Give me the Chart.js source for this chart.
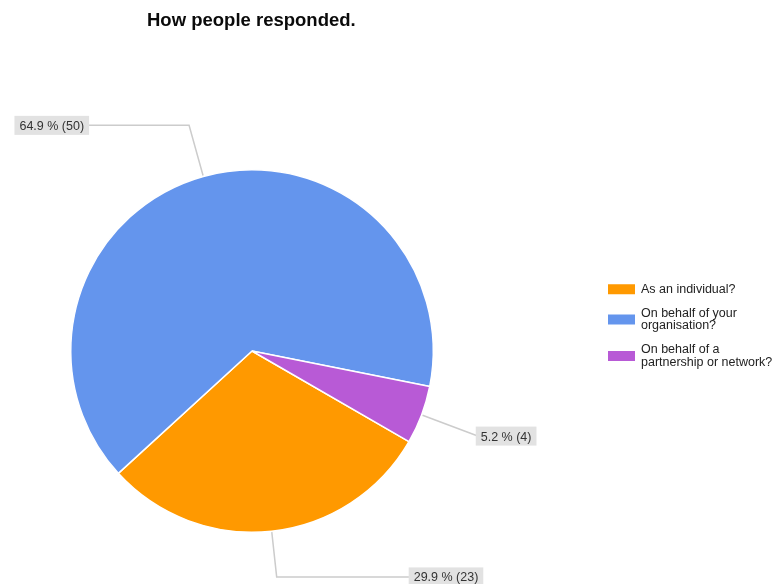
<!DOCTYPE html>
<html>
<head>
<meta charset="utf-8">
<script src="https://cdn.jsdelivr.net/npm/chart.js@4.4.1/dist/chart.umd.min.js"></script>
<style>
  html, body { margin: 0; padding: 0; background: #fff; }
  #wrap { width: 784px; height: 584px; }
</style>
</head>
<body>
<div id="wrap"><canvas id="responseChart" width="784" height="584"></canvas></div>
<script>
var chartTitle = 'How people responded.';
var categories = ['As an individual?', 'On behalf of your organisation?', 'On behalf of a partnership or network?'];
var responses = [23, 50, 4];
var sliceColors = ['#ff9900', '#6495ed', '#b85ad6'];

var FONT = '"Liberation Sans", Arial, sans-serif';

// title, top left above the pie
var titlePlugin = {
    id: 'plainTitle',
    afterDraw: function(chart) {
        var ctx = chart.ctx;
        ctx.save();
        ctx.font = 'bold 18.5px ' + FONT;
        ctx.fillStyle = '#0a0a0a';
        ctx.textBaseline = 'alphabetic';
        ctx.fillText(chartTitle, 147, 26);
        ctx.restore();
    }
};

// percent + count boxes hooked to each slice with a bent leader line
var calloutElbow = [46, 53, 60];
var calloutRun = [134, -100, 0];
var calloutPlugin = {
    id: 'callouts',
    afterDatasetsDraw: function(chart) {
        var ctx = chart.ctx;
        var meta = chart.getDatasetMeta(0);
        var values = chart.data.datasets[0].data;
        var total = values.reduce(function(a, b) { return a + b; }, 0);
        ctx.save();
        ctx.font = '12.5px ' + FONT;
        meta.data.forEach(function(arc, i) {
            var p = arc.getProps(['x', 'y', 'startAngle', 'endAngle', 'outerRadius'], true);
            var mid = (p.startAngle + p.endAngle) / 2;
            var cos = Math.cos(mid), sin = Math.sin(mid);
            var x0 = p.x + cos * (p.outerRadius + 1);
            var y0 = p.y + sin * (p.outerRadius + 1);
            var ex = p.x + cos * (p.outerRadius + calloutElbow[i]);
            var ey = p.y + sin * (p.outerRadius + calloutElbow[i]);
            var x2 = ex + calloutRun[i];

            ctx.strokeStyle = '#cccccc';
            ctx.lineWidth = 1.5;
            ctx.beginPath();
            ctx.moveTo(x0, y0);
            ctx.lineTo(ex, ey);
            ctx.lineTo(x2, ey);
            ctx.stroke();

            var text = (values[i] / total * 100).toFixed(1) + ' % (' + values[i] + ')';
            var w = ctx.measureText(text).width + 10;
            var h = 19;
            var left = calloutRun[i] < 0 ? x2 - w : x2 - 2;
            ctx.fillStyle = '#e2e2e2';
            ctx.fillRect(left, ey - h / 2, w, h);
            ctx.fillStyle = '#333';
            ctx.textBaseline = 'middle';
            ctx.fillText(text, left + 5, ey + 1);
        });
        ctx.restore();
    }
};

// right-hand legend with wrapped labels
function wrapText(ctx, text, maxWidth) {
    var words = text.split(' ');
    var lines = [];
    var line = '';
    words.forEach(function(word) {
        var test = line ? line + ' ' + word : word;
        if (line && ctx.measureText(test).width > maxWidth) {
            lines.push(line);
            line = word;
        } else {
            line = test;
        }
    });
    lines.push(line);
    return lines;
}

var legendPlugin = {
    id: 'sideLegend',
    afterDraw: function(chart) {
        var ctx = chart.ctx;
        var lineH = 12.5;
        var y = 283;
        ctx.save();
        ctx.font = '12.5px ' + FONT;
        ctx.textBaseline = 'top';
        chart.data.labels.forEach(function(label, i) {
            var lines = wrapText(ctx, label, 136);
            var blockH = lines.length * lineH;
            ctx.fillStyle = chart.data.datasets[0].backgroundColor[i];
            ctx.fillRect(608, y + blockH / 2 - 5, 27, 10);
            ctx.fillStyle = '#222';
            lines.forEach(function(ln, k) {
                ctx.fillText(ln, 641, y + k * lineH);
            });
            y += blockH + 11.5;
        });
        ctx.restore();
    }
};

var ctx = document.getElementById('responseChart').getContext('2d');
var responseChart = new Chart(ctx, {
    type: 'pie',
    data: {
        labels: categories,
        datasets: [{
            data: responses,
            backgroundColor: sliceColors,
            borderColor: '#ffffff',
            borderWidth: 1.5
        }]
    },
    options: {
        responsive: false,
        animation: false,
        rotation: 120,
        layout: {
            padding: { left: 70, top: 169, right: 350, bottom: 51 }
        },
        plugins: {
            legend: { display: false },
            title: { display: false },
            tooltip: { enabled: false }
        }
    },
    plugins: [titlePlugin, calloutPlugin, legendPlugin]
});
</script>
</body>
</html>
